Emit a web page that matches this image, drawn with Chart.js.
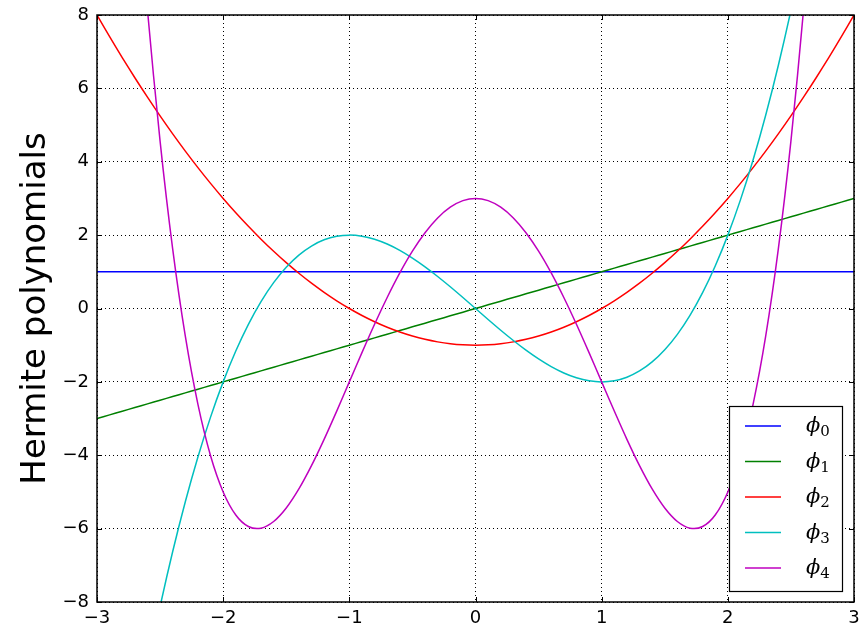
<!DOCTYPE html>
<html><head><meta charset="utf-8">
<script src="https://cdn.jsdelivr.net/npm/chart.js@4"></script>
<style>html,body{margin:0;padding:0;background:#fff}#wrap{width:864px;height:626px}</style>
</head><body><div id="wrap"><canvas id="c" width="864" height="626"></canvas></div>
<script>
const xValues = [-3,-2.9,-2.8,-2.7,-2.6,-2.5,-2.4,-2.3,-2.2,-2.1,-2,-1.9,-1.8,-1.7,-1.6,-1.5,-1.4,-1.3,-1.2,-1.1,-1,-0.9,-0.8,-0.7,-0.6,-0.5,-0.4,-0.3,-0.2,-0.1,0,0.1,0.2,0.3,0.4,0.5,0.6,0.7,0.8,0.9,1,1.1,1.2,1.3,1.4,1.5,1.6,1.7,1.8,1.9,2,2.1,2.2,2.3,2.4,2.5,2.6,2.7,2.8,2.9,3];
const phi0 = [1,1,1,1,1,1,1,1,1,1,1,1,1,1,1,1,1,1,1,1,1,1,1,1,1,1,1,1,1,1,1,1,1,1,1,1,1,1,1,1,1,1,1,1,1,1,1,1,1,1,1,1,1,1,1,1,1,1,1,1,1];
const phi1 = [-3,-2.9,-2.8,-2.7,-2.6,-2.5,-2.4,-2.3,-2.2,-2.1,-2,-1.9,-1.8,-1.7,-1.6,-1.5,-1.4,-1.3,-1.2,-1.1,-1,-0.9,-0.8,-0.7,-0.6,-0.5,-0.4,-0.3,-0.2,-0.1,0,0.1,0.2,0.3,0.4,0.5,0.6,0.7,0.8,0.9,1,1.1,1.2,1.3,1.4,1.5,1.6,1.7,1.8,1.9,2,2.1,2.2,2.3,2.4,2.5,2.6,2.7,2.8,2.9,3];
const phi2 = [8,7.41,6.84,6.29,5.76,5.25,4.76,4.29,3.84,3.41,3,2.61,2.24,1.89,1.56,1.25,0.96,0.69,0.44,0.21,0,-0.19,-0.36,-0.51,-0.64,-0.75,-0.84,-0.91,-0.96,-0.99,-1,-0.99,-0.96,-0.91,-0.84,-0.75,-0.64,-0.51,-0.36,-0.19,0,0.21,0.44,0.69,0.96,1.25,1.56,1.89,2.24,2.61,3,3.41,3.84,4.29,4.76,5.25,5.76,6.29,6.84,7.41,8];
const phi3 = [-18,-15.689,-13.552,-11.583,-9.776,-8.125,-6.624,-5.267,-4.048,-2.961,-2,-1.159,-0.432,0.187,0.704,1.125,1.456,1.703,1.872,1.969,2,1.971,1.888,1.757,1.584,1.375,1.136,0.873,0.592,0.299,0,-0.299,-0.592,-0.873,-1.136,-1.375,-1.584,-1.757,-1.888,-1.971,-2,-1.969,-1.872,-1.703,-1.456,-1.125,-0.704,-0.187,0.432,1.159,2,2.961,4.048,5.267,6.624,8.125,9.776,11.583,13.552,15.689,18];
const phi4 = [30,23.2681,17.4256,12.4041,8.1376,4.5625,1.6176,-0.7559,-2.6144,-4.0119,-5,-5.6279,-5.9424,-5.9879,-5.8064,-5.4375,-4.9184,-4.2839,-3.5664,-2.7959,-2,-1.2039,-0.4304,0.3001,0.9696,1.5625,2.0656,2.4681,2.7616,2.9401,3,2.9401,2.7616,2.4681,2.0656,1.5625,0.9696,0.3001,-0.4304,-1.2039,-2,-2.7959,-3.5664,-4.2839,-4.9184,-5.4375,-5.8064,-5.9879,-5.9424,-5.6279,-5,-4.0119,-2.6144,-0.7559,1.6176,4.5625,8.1376,12.4041,17.4256,23.2681,30];
const seriesLabels = ['\u03D50','\u03D51','\u03D52','\u03D53','\u03D54'];
const seriesColors = ['#0000ff','#008000','#ff0000','#00bfbf','#bf00bf'];
const xTicks = [-3,-2,-1,0,1,2,3];
const yTicks = [-8,-6,-4,-2,0,2,4,6,8];
const yTitle = 'Hermite polynomials';

const allSeries = [phi0, phi1, phi2, phi3, phi4];
const fmt = v => (v < 0 ? '\u2212' + Math.abs(v) : String(v));
const FONT = 'DejaVu Sans';

const frame = {
  id: 'frame',
  afterDatasetsDraw(chart) {
    const {ctx, chartArea: a, scales} = chart;
    ctx.save();
    ctx.strokeStyle = '#000';
    ctx.lineWidth = 1;
    ctx.beginPath();
    xTicks.forEach(t => {
      const px = Math.round(scales.x.getPixelForValue(t)) + 0.5;
      ctx.moveTo(px, a.bottom); ctx.lineTo(px, a.bottom - 5);
      ctx.moveTo(px, a.top); ctx.lineTo(px, a.top + 5);
    });
    yTicks.forEach(t => {
      const py = Math.round(scales.y.getPixelForValue(t)) + 0.5;
      ctx.moveTo(a.left, py); ctx.lineTo(a.left + 5, py);
      ctx.moveTo(a.right, py); ctx.lineTo(a.right - 5, py);
    });
    ctx.stroke();
    ctx.lineWidth = 1.5;
    ctx.strokeRect(a.left, a.top, a.right - a.left, a.bottom - a.top);
    // legend
    const bx = 729.5, by = 406.5, bw = 113, bh = 185;
    ctx.fillStyle = '#fff';
    ctx.fillRect(bx, by, bw, bh);
    ctx.lineWidth = 1.2;
    ctx.strokeRect(bx, by, bw, bh);
    seriesLabels.forEach((lab, i) => {
      const y = 426 + i * 35.5;
      ctx.strokeStyle = seriesColors[i];
      ctx.lineWidth = 1.5;
      ctx.beginPath(); ctx.moveTo(745, y); ctx.lineTo(781, y); ctx.stroke();
      ctx.fillStyle = '#000';
      ctx.textBaseline = 'alphabetic';
      ctx.textAlign = 'left';
      ctx.font = 'italic 21px "DejaVu Serif"';
      ctx.fillText(lab[0], 806, y + 6);
      const w = ctx.measureText(lab[0]).width;
      ctx.font = '15px "DejaVu Serif"';
      ctx.fillText(lab.slice(1), 806 + w, y + 10);
    });
    ctx.restore();
  }
};

new Chart(document.getElementById('c'), {
  type: 'line',
  data: {
    datasets: allSeries.map((s, i) => ({
      label: seriesLabels[i],
      data: xValues.map((x, j) => ({x: x, y: s[j]})),
      borderColor: seriesColors[i],
      backgroundColor: seriesColors[i],
      borderWidth: 1.5,
      pointRadius: 0,
      tension: 0.3,
      fill: false,
      order: 4 - i
    }))
  },
  options: {
    responsive: false,
    animation: false,
    layout: {padding: {top: 15, right: 10, left: 0, bottom: 0}},
    plugins: {legend: {display: false}, tooltip: {enabled: false}},
    scales: {
      x: {
        type: 'linear', min: -3, max: 3,
        afterBuildTicks: s => { s.ticks = xTicks.map(v => ({value: v})); },
        afterFit: s => { s.height = 24; s.paddingLeft = 0; s.paddingRight = 0; },
        grid: {color: '#000', lineWidth: 1, drawTicks: false},
        border: {display: false, dash: [1, 3]},
        ticks: {padding: 6, color: '#000', font: {family: FONT, size: 18}, callback: v => fmt(v)}
      },
      y: {
        type: 'linear', min: -8, max: 8,
        afterBuildTicks: s => { s.ticks = yTicks.map(v => ({value: v})); },
        afterFit: s => { s.width = 97; s.paddingTop = 0; s.paddingBottom = 0; },
        grid: {color: '#000', lineWidth: 1, drawTicks: false},
        border: {display: false, dash: [1, 3]},
        title: {display: true, text: yTitle, color: '#000', font: {family: FONT, size: 34}, padding: {top: 16, bottom: 0}},
        ticks: {padding: 8, color: '#000', font: {family: FONT, size: 18}, callback: v => fmt(v)}
      }
    }
  },
  plugins: [frame]
});
</script>
</body></html>
